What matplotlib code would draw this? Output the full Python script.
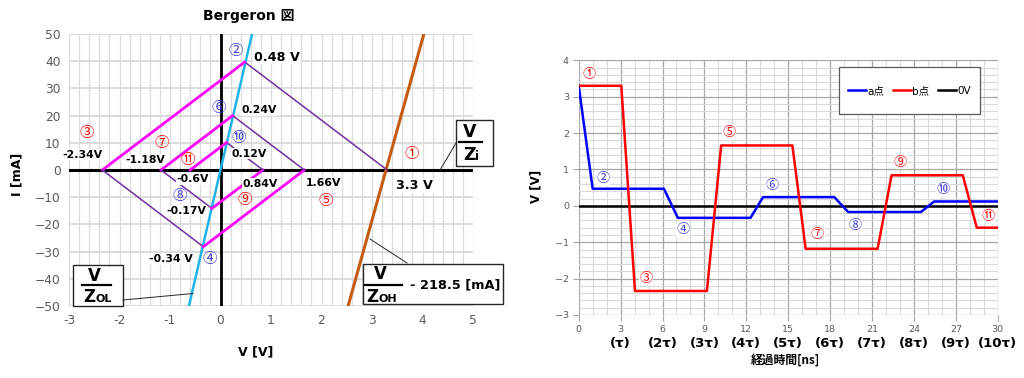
import matplotlib
matplotlib.use("Agg")
import matplotlib.pyplot as plt
import numpy as np
from matplotlib.patches import Rectangle
from matplotlib.lines import Line2D

plt.rcParams['font.family'] = ['DejaVu Sans', 'Noto Sans CJK JP']

# ---------------- Data: Bergeron diagram ----------------
zol_v = [-0.625, 0.625]          # V/Z_OL line
zol_i = [-50, 50]
zoh_v = [2.527, 4.027]           # V/Z_OH - 218.5 line
zoh_i = [-50, 50]
# bounce vertices ① .. ⑪
berg_v = [3.3, 0.48, -2.34, -0.34, 1.66, 0.24, -1.18, -0.17, 0.84, 0.12, -0.6]
berg_i = [0, 39.7, 0, -28.2, 0, 20.0, 0, -14.1, 0, 10.1, 0]
val_labels = ["0.48 V", "-2.34V", "-0.34 V", "1.66V", "0.24V", "-1.18V",
              "-0.17V", "0.84V", "0.12V", "-0.6V", "3.3 V"]

# ---------------- Data: waveform ----------------
a_t = [0, 1.0, 6.1, 7.1, 12.3, 13.2, 18.3, 19.3, 24.5, 25.45, 30]
a_v = [3.3, 0.47, 0.47, -0.33, -0.33, 0.24, 0.24, -0.17, -0.17, 0.12, 0.12]
b_t = [0, 3.05, 4.03, 9.18, 10.2, 15.3, 16.25, 21.4, 22.4, 27.5, 28.5, 30]
b_v = [3.3, 3.3, -2.34, -2.34, 1.66, 1.66, -1.18, -1.18, 0.84, 0.84, -0.6, -0.6]
zero_t = [0, 30]
zero_v = [0, 0]
tau_labels = ["(τ)", "(2τ)", "(3τ)", "(4τ)", "(5τ)", "(6τ)", "(7τ)", "(8τ)", "(9τ)", "(10τ)"]

W, H = 1024, 378
fig = plt.figure(figsize=(W / 100, H / 100), dpi=100)

def px(x, y):
    return (x / W, 1 - y / H)

RED = '#ff0000'
BLUE = '#3b3bd6'
TICKC = '#595959'
CJK = ['Noto Sans CJK JP', 'DejaVu Sans']

# ================= Left chart =================
axL = fig.add_axes([69 / W, 1 - 306 / H, (473 - 69) / W, (306 - 34) / H])
axL.set_xlim(-3, 5)
axL.set_ylim(-50, 50)
for s in axL.spines.values():
    s.set_visible(False)
for xv in np.arange(-3, 5.001, 0.2):
    axL.axvline(xv, color='#dcdcdc', lw=0.9, zorder=0)
for yv in np.arange(-50, 50.001, 10):
    axL.axhline(yv, color='#d9d9d9', lw=1.3, zorder=0)
axL.set_xticks(np.arange(-3, 6, 1))
axL.set_yticks(np.arange(-50, 51, 10))
axL.tick_params(length=0, labelsize=8.8, labelcolor=TICKC, pad=6)
axL.set_xticklabels([str(v) for v in range(-3, 6)])
axL.plot([-3, 5], [0, 0], color='black', lw=2.2, zorder=2)
axL.plot([0, 0], [-50, 50], color='black', lw=2.0, zorder=2)
axL.plot(zol_v, zol_i, color='#1eb4e8', lw=1.8, zorder=3)
axL.plot(zoh_v, zoh_i, color='#c55a11', lw=2.2, zorder=3)
for k in range(len(berg_v) - 1):
    if k % 2 == 0:
        axL.plot(berg_v[k:k + 2], berg_i[k:k + 2], color='#7030a0', lw=1.1, zorder=4)
    else:
        axL.plot(berg_v[k:k + 2], berg_i[k:k + 2], color='#ff00ff', lw=2.0, zorder=4)

fig.text(*px(249, 16), "Bergeron 図", ha='center', va='center', fontsize=10, fontweight='bold')
fig.text(*px(256, 352), "V [V]", ha='center', va='center', fontsize=9, fontweight='bold')
fig.text(*px(17, 174), "I [mA]", ha='center', va='center', fontsize=9, fontweight='bold', rotation=90)

bb = dict(facecolor='white', edgecolor='none', pad=0.5)
lab_pos = {
    "0.48 V": (1.12, 41.5, 9.2), "-2.34V": (-2.73, 5.6, 7.8), "-0.34 V": (-0.98, -32.8, 7.8),
    "1.66V": (2.03, -4.8, 7.8), "0.24V": (0.76, 22.0, 7.8), "-1.18V": (-1.5, 3.5, 7.8),
    "-0.17V": (-0.67, -15.0, 7.8), "0.84V": (0.78, -5.0, 7.8), "0.12V": (0.56, 6.0, 7.8),
    "-0.6V": (-0.55, -3.3, 7.8), "3.3 V": (3.85, -5.8, 9.2),
}
for t in val_labels:
    x, y, fs = lab_pos[t]
    axL.text(x, y, t, ha='center', va='center', fontsize=fs, fontweight='bold', bbox=bb, zorder=6)

circ = [("①", 3.78, 5.9, RED), ("②", 0.3, 43.6, BLUE), ("③", -2.65, 13.5, RED),
        ("④", -0.21, -32.8, BLUE), ("⑤", 2.08, -11.4, RED), ("⑥", -0.03, 22.7, BLUE),
        ("⑦", -1.17, 9.8, RED), ("⑧", -0.8, -9.7, BLUE), ("⑨", 0.48, -11.0, RED),
        ("⑩", 0.36, 11.6, BLUE), ("⑪", -0.65, 3.5, RED)]
for s, x, y, c in circ:
    axL.text(x, y, s, ha='center', va='center', fontsize=10.5, color=c, zorder=7, family=CJK)

def box(x0, y0, x1, y1):
    fig.patches.append(Rectangle(px(x0, y1), (x1 - x0) / W, (y1 - y0) / H,
                                 transform=fig.transFigure, facecolor='white',
                                 edgecolor='#262626', lw=1.0, zorder=8))

def seg(x0, y0, x1, y1, lw=0.7, c='#262626'):
    fig.add_artist(Line2D([x0 / W, x1 / W], [1 - y0 / H, 1 - y1 / H], transform=fig.transFigure,
                          color=c, lw=lw, zorder=9))

# V/Zi box
seg(440, 170, 456, 143)
box(456, 120, 493, 166)
fig.text(*px(470, 132), "V", ha='center', va='center', fontsize=12.5, fontweight='bold', zorder=10)
seg(459, 142, 482, 142, lw=1.6, c='black')
fig.text(*px(469, 155), "Z", ha='center', va='center', fontsize=12.5, fontweight='bold', zorder=10)
fig.text(*px(477, 157), "i", ha='center', va='center', fontsize=8.5, fontweight='bold', zorder=10)

# V/Z_OL box
seg(123, 300, 193, 293.5)
box(73, 265, 123, 306)
fig.text(*px(94, 276), "V", ha='center', va='center', fontsize=12, fontweight='bold', zorder=10)
seg(82, 284.5, 111, 284.5, lw=1.6, c='black')
fig.text(*px(89, 296.5), "Z", ha='center', va='center', fontsize=12, fontweight='bold', zorder=10)
fig.text(*px(104, 298.5), "OL", ha='center', va='center', fontsize=8, fontweight='bold', zorder=10)

# V/Z_OH box
seg(370, 239, 407, 263)
box(363, 264, 503, 304)
fig.text(*px(380, 274), "V", ha='center', va='center', fontsize=12, fontweight='bold', zorder=10)
seg(365, 284.5, 402, 284.5, lw=1.6, c='black')
fig.text(*px(372.5, 296.5), "Z", ha='center', va='center', fontsize=12, fontweight='bold', zorder=10)
fig.text(*px(387.5, 298.5), "OH", ha='center', va='center', fontsize=8, fontweight='bold', zorder=10)
fig.text(*px(455, 284.5), "- 218.5 [mA]", ha='center', va='center', fontsize=9.3, fontweight='bold', zorder=10)

# ================= Right chart =================
axR = fig.add_axes([578.7 / W, 1 - 315 / H, (997.7 - 578.7) / W, (315 - 60.3) / H])
axR.set_xlim(0, 30)
axR.set_ylim(-3, 4)
for s in axR.spines.values():
    s.set_visible(False)
for xv in np.arange(0, 30.001, 1):
    major = abs(xv % 3) < 1e-6
    axR.axvline(xv, color='#a6a6a6' if major else '#d9d9d9', lw=0.9 if major else 0.8, zorder=0)
for yv in np.arange(-3, 4.001, 0.2):
    major = abs(yv - round(yv)) < 1e-6
    axR.axhline(yv, color='#a6a6a6' if major else '#d9d9d9', lw=0.9 if major else 0.8, zorder=0)
axR.set_xticks(np.arange(0, 31, 3))
axR.set_yticks(np.arange(-3, 5, 1))
axR.tick_params(length=4, width=0.8, color='#a6a6a6', labelsize=6.8, labelcolor=TICKC, pad=3)
axR.plot(a_t, a_v, color='#0000ff', lw=1.8, label='a点', zorder=3)
axR.plot(b_t, b_v, color='#ff0000', lw=1.8, label='b点', zorder=3)
axR.plot(zero_t, zero_v, color='black', lw=1.8, label='0V', zorder=2)

# legend: manual frame + frameless legend
fig.patches.append(Rectangle(px(839, 114), (980 - 839) / W, (114 - 67) / H,
                             transform=fig.transFigure, facecolor='white',
                             edgecolor='#595959', lw=0.9, zorder=5))
leg = fig.legend(*axR.get_legend_handles_labels(), loc='center', bbox_to_anchor=px(909.5, 91),
                 ncol=3, fontsize=7.5, frameon=False, handlelength=1.7,
                 handletextpad=0.1, columnspacing=0.9, borderpad=0.2)
leg.set_zorder(6)

for i, t in enumerate(tau_labels):
    axR.text(3 * (i + 1), -3.78, t, ha='center', va='center', fontsize=9.5, fontweight='bold')
fig.text(*px(785, 360), "経過時間[ns]", ha='center', va='center', fontsize=8.5, fontweight='bold',
         family=CJK)
fig.text(*px(536, 186), "V [V]", ha='center', va='center', fontsize=8.5, fontweight='bold', rotation=90)

bbw = dict(facecolor='white', edgecolor='none', pad=0.3)
circR = [("①", 0.76, 3.6, RED), ("②", 1.76, 0.74, BLUE), ("③", 4.82, -2.0, RED),
         ("④", 7.47, -0.66, BLUE), ("⑤", 10.76, 2.01, RED), ("⑥", 13.86, 0.55, BLUE),
         ("⑦", 17.1, -0.8, RED), ("⑧", 19.8, -0.54, BLUE), ("⑨", 23.05, 1.2, RED),
         ("⑩", 26.1, 0.44, BLUE), ("⑪", 29.3, -0.3, RED)]
for s, x, y, c in circR:
    axR.text(x, y, s, ha='center', va='center', fontsize=9.5, color=c, zorder=7, bbox=bbw,
             family=CJK)

fig.savefig('out.png', dpi=100)
